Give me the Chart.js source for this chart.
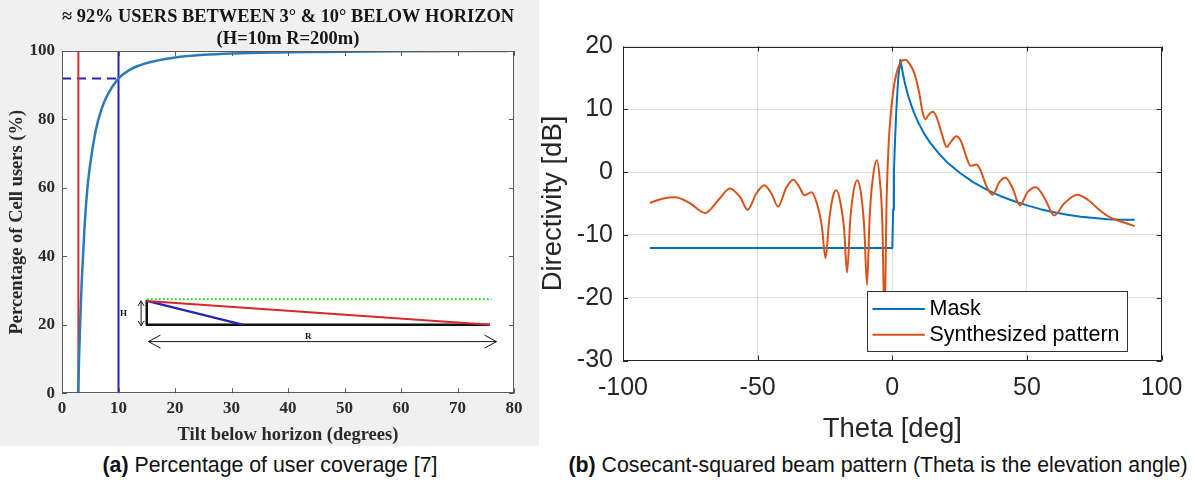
<!DOCTYPE html>
<html>
<head>
<meta charset="utf-8">
<title>User coverage and cosecant-squared beam pattern</title>
<script src="https://cdn.jsdelivr.net/npm/chart.js@4.4.1/dist/chart.umd.min.js"></script>
<style>
    html, body { margin: 0; padding: 0; background: #fff; }
    body { width: 1195px; height: 480px; position: relative; overflow: hidden; }
    #panelA { position: absolute; left: 0; top: 0; width: 539px; height: 446px; background: #f0f0f0; }
    #panelB { position: absolute; left: 540px; top: 0; width: 655px; height: 446px; }
    .caption {
        position: absolute; top: 451px; line-height: 28px;
        font-family: "Liberation Sans", Arial, sans-serif; font-size: 21.3px;
        color: #111; white-space: nowrap; text-align: center;
    }
</style>
</head>
<body>
<div id="panelA"><canvas id="coverageChart" width="539" height="446"></canvas></div>
<div id="panelB"><canvas id="patternChart" width="655" height="446"></canvas></div>
<div class="caption" style="left:10px; width:520px;"><b>(a)</b> Percentage of user coverage [7]</div>
<div class="caption" style="left:563px; width:630px;"><b>(b)</b> Cosecant-squared beam pattern (Theta is the elevation angle)</div>

<script>
// ---- (a) coverage vs tilt ----
const tiltDeg = [2.86, 3, 3.2, 3.5, 4, 4.5, 5, 6, 7, 8, 10, 12, 15, 20, 25, 30, 40, 50, 60, 79];
const cellUsersPct = [0, 9, 20, 33, 49, 60, 67, 77, 83, 87, 92, 94.5, 96.5, 98.1, 98.9, 99.3, 99.6, 99.8, 99.9, 100];

const lowTiltX = [2.9, 2.9];
const lowTiltY = [0, 100];
const highTiltX = [10, 10];
const highTiltY = [0, 100];
const share92X = [0, 10];
const share92Y = [92, 92];

// inset sketch (mast H, range R), in axis units
const horizonX = [15, 76];
const horizonY = [27.5, 27.5];
const farRayX = [15, 75.7];
const farRayY = [27, 20];
const nearRayX = [15, 32.1];
const nearRayY = [27, 20];
const mastGroundX = [15, 15, 75.7];
const mastGroundY = [27, 20, 20];
const heightArrow = [[14, 27], [14, 19.7]];
const rangeArrow = [[15.3, 15.1], [76.9, 15.1]];
const insetLabels = [['H', 10.9, 23.2], ['R', 43.6, 16.5]];

const coverageXTicks = [0, 80, 10];
const coverageYTicks = [0, 100, 20];

// ---- (b) beam pattern ----
const maskTheta = [-90, 0, 0.3, 0.6, 1.0, 1.5, 2.2, 3.0, 3.5, 4, 4.5, 5, 6, 7, 8, 9, 10, 12, 14, 17, 20,
    25, 30, 35, 40, 45, 50, 55, 60, 65, 70, 75, 80, 85, 90];
const maskDb = [-12.1, -12.1, -6, 0, 5, 10, 15, 17.9, 16.7, 15.5, 14.5, 13.6, 12.0, 10.7, 9.5, 8.5, 7.6, 6.0, 4.7, 3.1, 1.7,
    -0.1, -1.6, -2.8, -3.8, -4.6, -5.3, -5.9, -6.4, -6.8, -7.1, -7.3, -7.5, -7.6, -7.6];

const synthTheta = [-90, -85, -80.6, -75, -69.5, -64.5, -60.3, -56.5, -53.7, -50.5, -47.5, -44.8, -42.4,
    -39.5, -36.8, -34.5, -32.6, -30, -28, -26.2, -24.8, -23.4, -22, -20.7, -19.2, -17.9, -16.8, -15.6,
    -14.3, -13, -11.6, -10.4, -9.4, -8.4, -7.1, -5.7, -4.6, -3.7, -2.9, -2.1, -1.3, -0.3, 0.8, 2.0, 3.3,
    4.9, 6.5, 8.3, 10.0, 11.2, 12.3, 13.6, 15.0, 16.4, 18.3, 20.2, 21.9, 23.7, 25.4, 27.2, 29.0, 31.3,
    33.0, 35.2, 37.3, 39.6, 42.0, 44.6, 47.4, 50.2, 53.3, 56.6, 60.1, 63.8, 68.7, 72.6, 76.8, 80.0,
    83.0, 86.5, 90.0];
const synthDb = [-4.9, -4.2, -4.0, -5.0, -6.5, -4.4, -2.6, -4.0, -6.0, -3.4, -2.1, -3.5, -5.5,
    -2.6, -1.2, -2.4, -3.7, -3.2, -5.0, -8.5, -13.7, -7.5, -3.8, -2.9, -5.0, -9.0, -16.0, -7.5,
    -2.8, -1.3, -3.5, -9.0, -18.0, -7.0, -0.5, 1.9, -1.5, -8.0, -24.0, -4.0, 5.0, 10.5, 14.2, 16.4, 17.6,
    17.9, 17.2, 15.6, 12.6, 9.6, 8.4, 9.2, 9.6, 8.8, 6.2, 4.0, 4.9, 5.7, 5.0, 2.8, 1.0, 1.2,
    0.0, -2.5, -3.6, -1.7, -0.9, -2.5, -5.3, -3.2, -2.4, -4.2, -6.9, -5.0, -3.6, -4.4, -6.0, -7.0,
    -7.6, -8.1, -8.6];

const patternXTicks = [-100, 100, 50];
const patternYTicks = [-30, 20, 10];

const SERIF = '"Liberation Serif", "Times New Roman", serif';
const SANS = '"Liberation Sans", Arial, sans-serif';

const toPoints = (xs, ys) => xs.map((x, i) => ({ x, y: ys[i] }));

// white plot area, dark box and MATLAB-style inward ticks on all four sides
const axesBox = {
    id: 'axesBox',
    beforeDraw(chart, args, opts) {
        if (!opts.fill) return;
        const { ctx, chartArea: a } = chart;
        ctx.save();
        ctx.fillStyle = opts.fill;
        ctx.fillRect(a.left, a.top, a.width, a.height);
        ctx.restore();
    },
    afterDatasetsDraw(chart, args, opts) {
        const { ctx, chartArea: a, scales } = chart;
        const len = opts.tickLength;
        ctx.save();
        ctx.strokeStyle = opts.color;
        ctx.lineWidth = 1;
        ctx.beginPath();
        scales.x.ticks.forEach(t => {
            const px = Math.round(scales.x.getPixelForValue(t.value)) + 0.5;
            ctx.moveTo(px, a.bottom); ctx.lineTo(px, a.bottom - len);
            ctx.moveTo(px, a.top); ctx.lineTo(px, a.top + len);
        });
        scales.y.ticks.forEach(t => {
            const py = Math.round(scales.y.getPixelForValue(t.value)) + 0.5;
            ctx.moveTo(a.left, py); ctx.lineTo(a.left + len, py);
            ctx.moveTo(a.right, py); ctx.lineTo(a.right - len, py);
        });
        ctx.stroke();
        ctx.strokeRect(Math.round(a.left) + 0.5, Math.round(a.top) + 0.5,
            Math.round(a.width) - 1, Math.round(a.height) - 1);
        ctx.restore();
    }
};

// double arrows and letters of the inset sketch
const insetMarks = {
    id: 'insetMarks',
    afterDatasetsDraw(chart, args, opts) {
        if (!opts.arrows) return;
        const { ctx, scales: { x, y } } = chart;
        ctx.save();
        ctx.strokeStyle = opts.color;
        ctx.lineWidth = 1;
        opts.arrows.forEach(({ ends, head }) => {
            const x1 = x.getPixelForValue(ends[0][0]), y1 = y.getPixelForValue(ends[0][1]);
            const x2 = x.getPixelForValue(ends[1][0]), y2 = y.getPixelForValue(ends[1][1]);
            const ang = Math.atan2(y2 - y1, x2 - x1);
            ctx.beginPath();
            ctx.moveTo(x1, y1); ctx.lineTo(x2, y2);
            [[x1, y1, ang + Math.PI], [x2, y2, ang]].forEach(([px, py, a]) => {
                const bx = px - head.len * Math.cos(a), by = py - head.len * Math.sin(a);
                ctx.moveTo(bx - head.half * Math.sin(a), by + head.half * Math.cos(a));
                ctx.lineTo(px, py);
                ctx.lineTo(bx + head.half * Math.sin(a), by - head.half * Math.cos(a));
            });
            ctx.stroke();
        });
        ctx.fillStyle = opts.color;
        ctx.font = opts.font;
        ctx.textAlign = 'center';
        ctx.textBaseline = 'middle';
        opts.labels.forEach(([txt, lx, ly]) => {
            ctx.fillText(txt, x.getPixelForValue(lx), y.getPixelForValue(ly));
        });
        ctx.restore();
    }
};

// boxed legend sitting inside the plot, like MATLAB's 'southeast'-ish placement
const boxLegend = {
    id: 'boxLegend',
    afterDraw(chart, args, o) {
        if (!o.width) return;
        const { ctx, chartArea: a } = chart;
        const x0 = Math.round(a.right - o.right - o.width) + 0.5;
        const y0 = Math.round(a.bottom - o.bottom - o.height) + 0.5;
        ctx.save();
        ctx.fillStyle = '#fff';
        ctx.fillRect(x0, y0, o.width, o.height);
        ctx.strokeStyle = o.borderColor;
        ctx.lineWidth = 1;
        ctx.strokeRect(x0, y0, o.width, o.height);
        ctx.font = o.font;
        ctx.textBaseline = 'middle';
        chart.data.datasets.forEach((ds, i) => {
            const ly = y0 + o.firstRow + i * o.rowGap;
            ctx.strokeStyle = ds.borderColor;
            ctx.lineWidth = ds.borderWidth;
            ctx.beginPath();
            ctx.moveTo(x0 + o.sampleStart, ly);
            ctx.lineTo(x0 + o.sampleEnd, ly);
            ctx.stroke();
            ctx.fillStyle = '#000';
            ctx.fillText(ds.label, x0 + o.textStart, ly);
        });
        ctx.restore();
    }
};

Chart.register(axesBox, insetMarks, boxLegend);

function lineSet(label, xs, ys, color, width, extra) {
    return Object.assign({
        label,
        data: toPoints(xs, ys),
        borderColor: color,
        backgroundColor: color,
        borderWidth: width,
        borderJoinStyle: 'round',
        pointRadius: 0,
        fill: false,
        tension: 0
    }, extra || {});
}

// ---- chart (a) ----
const serifTick = { family: SERIF, size: 17, weight: 'bold' };
const serifLabel = { family: SERIF, size: 18.5, weight: 'bold' };

new Chart(document.getElementById('coverageChart'), {
    type: 'line',
    data: {
        datasets: [
            lineSet('coverage', tiltDeg, cellUsersPct, '#2b7bb9', 2.5, { cubicInterpolationMode: 'monotone' }),
            lineSet('3 deg', lowTiltX, lowTiltY, '#e0282e', 2),
            lineSet('10 deg', highTiltX, highTiltY, '#2424b8', 2),
            lineSet('92 %', share92X, share92Y, '#2424b8', 2, { borderDash: [9, 6] }),
            lineSet('horizon', horizonX, horizonY, '#3fd63a', 2, { borderDash: [2, 2] }),
            lineSet('far ray', farRayX, farRayY, '#d8262e', 2),
            lineSet('near ray', nearRayX, nearRayY, '#2424b8', 2.2),
            lineSet('mast', mastGroundX, mastGroundY, '#111', 2.5)
        ]
    },
    options: {
        responsive: false,
        animation: false,
        devicePixelRatio: 1,
        layout: { padding: { left: 0, right: 25, top: 0, bottom: 0 } },
        plugins: {
            legend: { display: false },
            tooltip: { enabled: false },
            title: {
                display: true,
                fullSize: false,
                text: ['\u2248 92% USERS BETWEEN 3\u00b0 & 10\u00b0 BELOW HORIZON', '(H=10m R=200m)'],
                color: '#151515',
                font: { family: SERIF, size: 18.5, weight: 'bold', lineHeight: 1.2 },
                padding: { top: 6, bottom: 0.6 }
            },
            axesBox: { fill: '#ffffff', color: '#5a5a5a', tickLength: 5 },
            insetMarks: {
                color: '#151515',
                font: 'bold 9px ' + SERIF,
                arrows: [
                    { ends: heightArrow, head: { len: 5, half: 3 } },
                    { ends: rangeArrow, head: { len: 12, half: 6.5 } }
                ],
                labels: insetLabels
            },
            boxLegend: {}
        },
        scales: {
            x: {
                type: 'linear',
                min: coverageXTicks[0],
                max: coverageXTicks[1],
                ticks: { stepSize: coverageXTicks[2], padding: 5, color: '#2a2a2a', font: serifTick, maxRotation: 0 },
                grid: { display: false, drawTicks: false },
                border: { display: false },
                title: { display: true, text: 'Tilt below horizon (degrees)', color: '#2a2a2a', font: serifLabel, padding: 0 },
                afterFit: s => { s.height = 52.7; }
            },
            y: {
                type: 'linear',
                min: coverageYTicks[0],
                max: coverageYTicks[1],
                ticks: { stepSize: coverageYTicks[2], padding: 7, color: '#2a2a2a', font: serifTick },
                grid: { display: false, drawTicks: false },
                border: { display: false },
                title: { display: true, text: 'Percentage of Cell users (%)', color: '#2a2a2a', font: serifLabel, padding: { top: 6, bottom: 0 } },
                afterFit: s => { s.width = 62; }
            }
        }
    }
});

// ---- chart (b) ----
const sansTick = { family: SANS, size: 25 };
const sansLabel = { family: SANS, size: 27.5, lineHeight: 1.2 };

new Chart(document.getElementById('patternChart'), {
    type: 'line',
    data: {
        datasets: [
            lineSet('Mask', maskTheta, maskDb, '#0072bd', 2, { order: 2 }),
            lineSet('Synthesized pattern', synthTheta, synthDb, '#d95319', 2, { order: 1, cubicInterpolationMode: 'monotone' })
        ]
    },
    options: {
        responsive: false,
        animation: false,
        devicePixelRatio: 1,
        layout: { padding: { left: 0, right: 32, top: 46.5, bottom: 0 } },
        plugins: {
            legend: { display: false },
            tooltip: { enabled: false },
            axesBox: { color: '#262626', tickLength: 5 },
            insetMarks: {},
            boxLegend: {
                right: 34.7, bottom: 9.8, width: 260, height: 60,
                firstRow: 17.6, rowGap: 25.7,
                sampleStart: 5, sampleEnd: 57.4, textStart: 62,
                borderColor: '#333333',
                font: '21.5px ' + SANS
            }
        },
        scales: {
            x: {
                type: 'linear',
                min: patternXTicks[0],
                max: patternXTicks[1],
                ticks: { stepSize: patternXTicks[2], padding: 12.5, color: '#262626', font: sansTick, maxRotation: 0 },
                grid: { color: '#dedede', lineWidth: 1, drawTicks: false },
                border: { display: false },
                title: { display: true, text: 'Theta [deg]', color: '#262626', font: sansLabel, padding: 0 },
                afterFit: s => { s.height = 85.5; }
            },
            y: {
                type: 'linear',
                min: patternYTicks[0],
                max: patternYTicks[1],
                ticks: { stepSize: patternYTicks[2], padding: 10, color: '#262626', font: sansTick },
                grid: { color: '#dedede', lineWidth: 1, drawTicks: false },
                border: { display: false },
                title: { display: true, text: 'Directivity [dB]', color: '#262626', font: { family: SANS, size: 27.5, lineHeight: 0.95 }, padding: 0 },
                afterFit: s => { s.width = 83; }
            }
        }
    }
});
</script>
</body>
</html>
